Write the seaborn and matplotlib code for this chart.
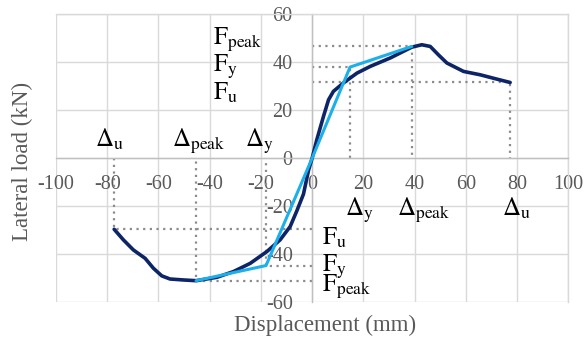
import seaborn as sns
import matplotlib.pyplot as plt

# backbone curve
disp = [-77.3, -73.7, -69.8, -65.2, -62.0, -58.7, -55.5, -50.3, -45.3, -37.2,
        -30.7, -24.2, -17.7, -12.5, -8.6, -6.0, -3.4, -1.4, 0.0, 1.8,
        4.4, 6.4, 8.3, 12.2, 17.5, 22.7, 30.5, 38.9, 42.8, 46.1,
        49.3, 52.6, 59.1, 65.6, 72.1, 77.3]
load = [-29.6, -34.0, -38.2, -41.7, -45.8, -49.0, -50.3, -50.7, -51.0, -49.6,
        -47.2, -43.8, -38.9, -34.0, -28.5, -22.0, -15.0, -5.0, 0.0, 7.6,
        17.3, 24.3, 27.8, 31.3, 35.4, 38.2, 41.7, 46.2, 47.2, 46.5,
        43.0, 39.6, 36.1, 34.7, 32.9, 31.5]

# idealised curve
ideal_disp = [-45.3, -18.0, 0.0, 14.8, 38.9]
ideal_load = [-51.0, -44.7, 0.0, 37.9, 46.5]

# key points: [positive side, negative side]
d_y = [14.8, -18.0]
d_peak = [38.9, -45.3]
d_u = [77.3, -77.3]
f_y = [37.9, -44.7]
f_peak = [46.5, -51.0]
f_u = [31.5, -29.6]

x_ticks = [-100, -80, -60, -40, -20, 0, 20, 40, 60, 80, 100]
y_ticks = [-60, -40, -20, 0, 20, 40, 60]

sns.set_theme(style="white")
plt.rcParams['font.family'] = ['Liberation Serif', 'DejaVu Serif']
plt.rcParams['mathtext.fontset'] = 'stix'
plt.rcParams['axes.unicode_minus'] = False

grey = '#595959'
fig = plt.figure(figsize=(5.84, 3.4), dpi=100)
ax = fig.add_axes([56 / 584, 1 - 302.3 / 340, 512.3 / 584, 288.3 / 340])

# dotted guide lines from the key points
for d, f in zip(d_y + d_peak + d_u, f_y + f_peak + f_u):
    ax.plot([0, d, d], [f, f, 0], color='#8c8c8c', lw=1.6,
            linestyle=(0, (1, 2)), zorder=2)

sns.lineplot(x=disp, y=load, sort=False, color='#0d2566', lw=2.6, ax=ax, zorder=3)
sns.lineplot(x=ideal_disp, y=ideal_load, sort=False, color='#1cb0ea', lw=2.2, ax=ax, zorder=4)

ax.set_xlim(-100, 100)
ax.set_ylim(-60, 60)
ax.set_xticks(x_ticks)
ax.set_yticks(y_ticks)
ax.grid(True, color='#d9d9d9', lw=1.0)
ax.set_axisbelow(True)

ax.spines['left'].set_position(('data', 0))
ax.spines['bottom'].set_position(('data', 0))
for s in ['left', 'bottom']:
    ax.spines[s].set_color('#bfbfbf')
    ax.spines[s].set_linewidth(1.0)
for s in ['top', 'right']:
    ax.spines[s].set_color('#d9d9d9')
    ax.spines[s].set_linewidth(1.0)
ax.tick_params(axis='x', length=0, pad=12, labelsize=14.5, labelcolor=grey)
ax.tick_params(axis='y', length=0, pad=14, labelsize=14.5, labelcolor=grey)

# annotations
fs = 18
kw = dict(fontsize=fs, color='black', ha='left', va='baseline', zorder=5)
ax.text(-38.7, 47.2, r'$\mathrm{F}_{\mathrm{peak}}$', **kw)
ax.text(-38.7, 36.1, r'$\mathrm{F}_{\mathrm{y}}$', **kw)
ax.text(-38.7, 24.3, r'$\mathrm{F}_{\mathrm{u}}$', **kw)
ax.text(3.8, -36.1, r'$\mathrm{F}_{\mathrm{u}}$', **kw)
ax.text(3.8, -47.2, r'$\mathrm{F}_{\mathrm{y}}$', **kw)
ax.text(3.8, -55.6, r'$\mathrm{F}_{\mathrm{peak}}$', **kw)
ax.text(-84.8, 4.6, r'$\Delta_{\mathrm{u}}$', **kw)
ax.text(-54.8, 4.6, r'$\Delta_{\mathrm{peak}}$', **kw)
ax.text(-26.2, 4.6, r'$\Delta_{\mathrm{y}}$', **kw)
ax.text(12.9, -24.0, r'$\Delta_{\mathrm{y}}$', **kw)
ax.text(33.3, -24.0, r'$\Delta_{\mathrm{peak}}$', **kw)
ax.text(74.1, -24.0, r'$\Delta_{\mathrm{u}}$', **kw)

fig.text(325 / 584, 1 - 325 / 340, 'Displacement (mm)', fontsize=16.5,
         color=grey, ha='center', va='center')
fig.text(22 / 584, 1 - 161 / 340, 'Lateral load (kN)', fontsize=16.5,
         color=grey, ha='center', va='center', rotation=90)

plt.savefig('out.png', dpi=100)
plt.close()
